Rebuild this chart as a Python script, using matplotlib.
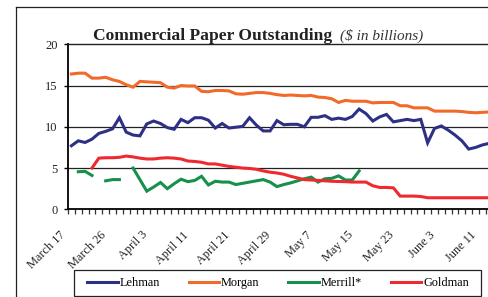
import numpy as np
import matplotlib
matplotlib.use("Agg")
import matplotlib.pyplot as plt
from matplotlib.lines import Line2D
from matplotlib.patches import Rectangle
from matplotlib.transforms import ScaledTranslation

plt.rcParams['font.family'] = ['Liberation Serif', 'DejaVu Serif']

nan = np.nan

# business days from March 17 (index 0), labels every 6 days
date_labels = ["March 17", "March 26", "April 3", "April 11", "April 21", "April 29",
               "May 7", "May 15", "May 23", "June 3", "June 11"]
label_pos = [0, 6, 12, 18, 24, 30, 36, 42, 48, 54, 60]

lehman = [7.7, 8.3, 8.1, 8.5, 9.2, 9.45, 9.75, 11.1, 9.35, 9.0,
          8.9, 10.35, 10.7, 10.4, 9.9, 9.7, 10.9, 10.5, 11.1, 11.1,
          10.8, 9.85, 10.4, 9.85, 9.95, 10.05, 11.1, 10.2, 9.5, 9.5,
          10.75, 10.25, 10.3, 10.3, 10.0, 11.15, 11.15, 11.35, 10.9, 11.05,
          10.9, 11.25, 12.15, 11.6, 10.7, 11.2, 11.5, 10.6, 10.75, 10.9,
          10.75, 10.9, 8.05, 9.8, 10.1, 9.6, 9.0, 8.3, 7.3, 7.5,
          7.8, 8.0]
morgan = [16.4, 16.5, 16.5, 15.9, 15.9, 16.0, 15.7, 15.5, 15.1, 14.8,
          15.5, 15.45, 15.4, 15.35, 14.8, 14.7, 15.0, 14.95, 14.95, 14.3,
          14.25, 14.4, 14.4, 14.35, 14.0, 13.95, 14.05, 14.15, 14.15, 14.05,
          13.9, 13.8, 13.85, 13.8, 13.75, 13.8, 13.6, 13.55, 13.4, 12.95,
          13.2, 13.1, 13.1, 13.1, 12.9, 12.95, 12.95, 12.95, 12.55, 12.55,
          12.3, 12.3, 12.3, 11.9, 11.9, 11.9, 11.9, 11.85, 11.75, 11.7,
          11.75, 11.8]
merrill = [nan, 4.55, 4.6, 4.1, nan, 3.45, 3.6, 3.6, nan, 5.0,
           3.6, 2.2, 2.7, 3.25, 2.5, 3.1, 3.65, 3.35, 3.5, 4.0,
           2.95, 3.4, 3.3, 3.3, 3.0, 3.15, 3.3, 3.45, 3.6, 3.3,
           2.75, 3.0, 3.2, 3.45, 3.7, 3.9, 3.3, 3.7, 3.75, 4.05,
           3.55, 3.55, 4.65]
goldman = [nan, nan, nan, 5.0, 6.2, 6.25, 6.25, 6.3, 6.45, 6.35,
           6.2, 6.1, 6.1, 6.2, 6.25, 6.2, 6.1, 5.85, 5.8, 5.7,
           5.5, 5.5, 5.35, 5.2, 5.1, 5.0, 4.95, 4.85, 4.65, 4.5,
           4.4, 4.25, 4.0, 3.8, 3.6, 3.55, 3.5, 3.45, 3.4, 3.37,
           3.35, 3.3, 3.3, 3.3, 2.85, 2.65, 2.65, 2.6, 1.6, 1.6,
           1.6, 1.55, 1.4, 1.4, 1.4, 1.4, 1.4, 1.4, 1.4, 1.4,
           1.4, 1.4]

names = ["Lehman", "Morgan", "Merrill*", "Goldman"]
colors = ["#2E3086", "#F26A2A", "#16904A", "#EE2A2F"]

W, H = 488, 297
fig = plt.figure(figsize=(W / 100, H / 100), dpi=100)
ax = fig.add_axes([68 / W, (H - 209.3) / H, (W - 68) / W, 165 / H])

for data, c in zip([lehman, morgan, merrill, goldman], colors):
    ax.plot(np.arange(len(data)), data, color=c, lw=2.2, solid_joinstyle='miter')

ax.set_ylim(0, 20)
ax.set_xlim(-0.5, -0.5 + 420 / 6.85)
ax.set_yticks([0, 5, 10, 15, 20])
ax.set_yticklabels(["0", "5", "10", "15", "20"], fontsize=9, color="#222")
ax.tick_params(axis='y', length=3, width=1, pad=4.5)
for v in [5, 10, 15]:
    ax.axhline(v, color="#222", lw=0.9, zorder=0.5)

ax.set_xticks(np.arange(0, 62) - 0.5)
ax.set_xticklabels([])
ax.tick_params(axis='x', length=3.5, width=0.9, direction='out', color="#333")

ax.spines['right'].set_visible(False)
ax.spines['top'].set_linewidth(1.0)
ax.spines['top'].set_color("#222")
ax.spines['left'].set_linewidth(1.3)
ax.spines['bottom'].set_linewidth(1.3)

off = ScaledTranslation(-8 / 100, -24 / 100, fig.dpi_scale_trans)
for p, lab in zip(label_pos, date_labels):
    ax.text(p, 0, lab, transform=ax.get_xaxis_transform() + off,
            rotation=45, rotation_mode='anchor', ha='right', va='center',
            fontsize=8.8, color="#222")

# title
fig.text(93 / W, 1 - 39.5 / H, "Commercial Paper Outstanding", fontsize=12.6,
         fontweight='bold', ha='left', va='baseline', color="#222")
fig.text(340 / W, 1 - 39.5 / H, "($ in billions)", fontsize=11, style='italic',
         ha='left', va='baseline', color="#333")

# outer frame lines (top and left)
fig.add_artist(Line2D([15.7 / W, 1], [1 - 6.7 / H, 1 - 6.7 / H], color="#222", lw=0.9))
fig.add_artist(Line2D([15.7 / W, 15.7 / W], [0, 1 - 6.7 / H], color="#222", lw=0.9))

# legend
fig.add_artist(Rectangle((74 / W, 1 - 296 / H), (481 - 74) / W, 26 / H,
                         transform=fig.transFigure, fill=False, ec="#222", lw=0.9))
handles = [Line2D([], [], color=c, lw=2.2) for c in colors]
fig.legend(handles, names, ncol=4, mode='expand', frameon=False,
           bbox_to_anchor=(87 / W, 1 - 296 / H, (469 - 87) / W, 26 / H),
           loc='center', borderpad=0, borderaxespad=0, handlelength=2.5,
           handletextpad=0.15, prop={'size': 8.8})

fig.savefig("out.png", dpi=100)
